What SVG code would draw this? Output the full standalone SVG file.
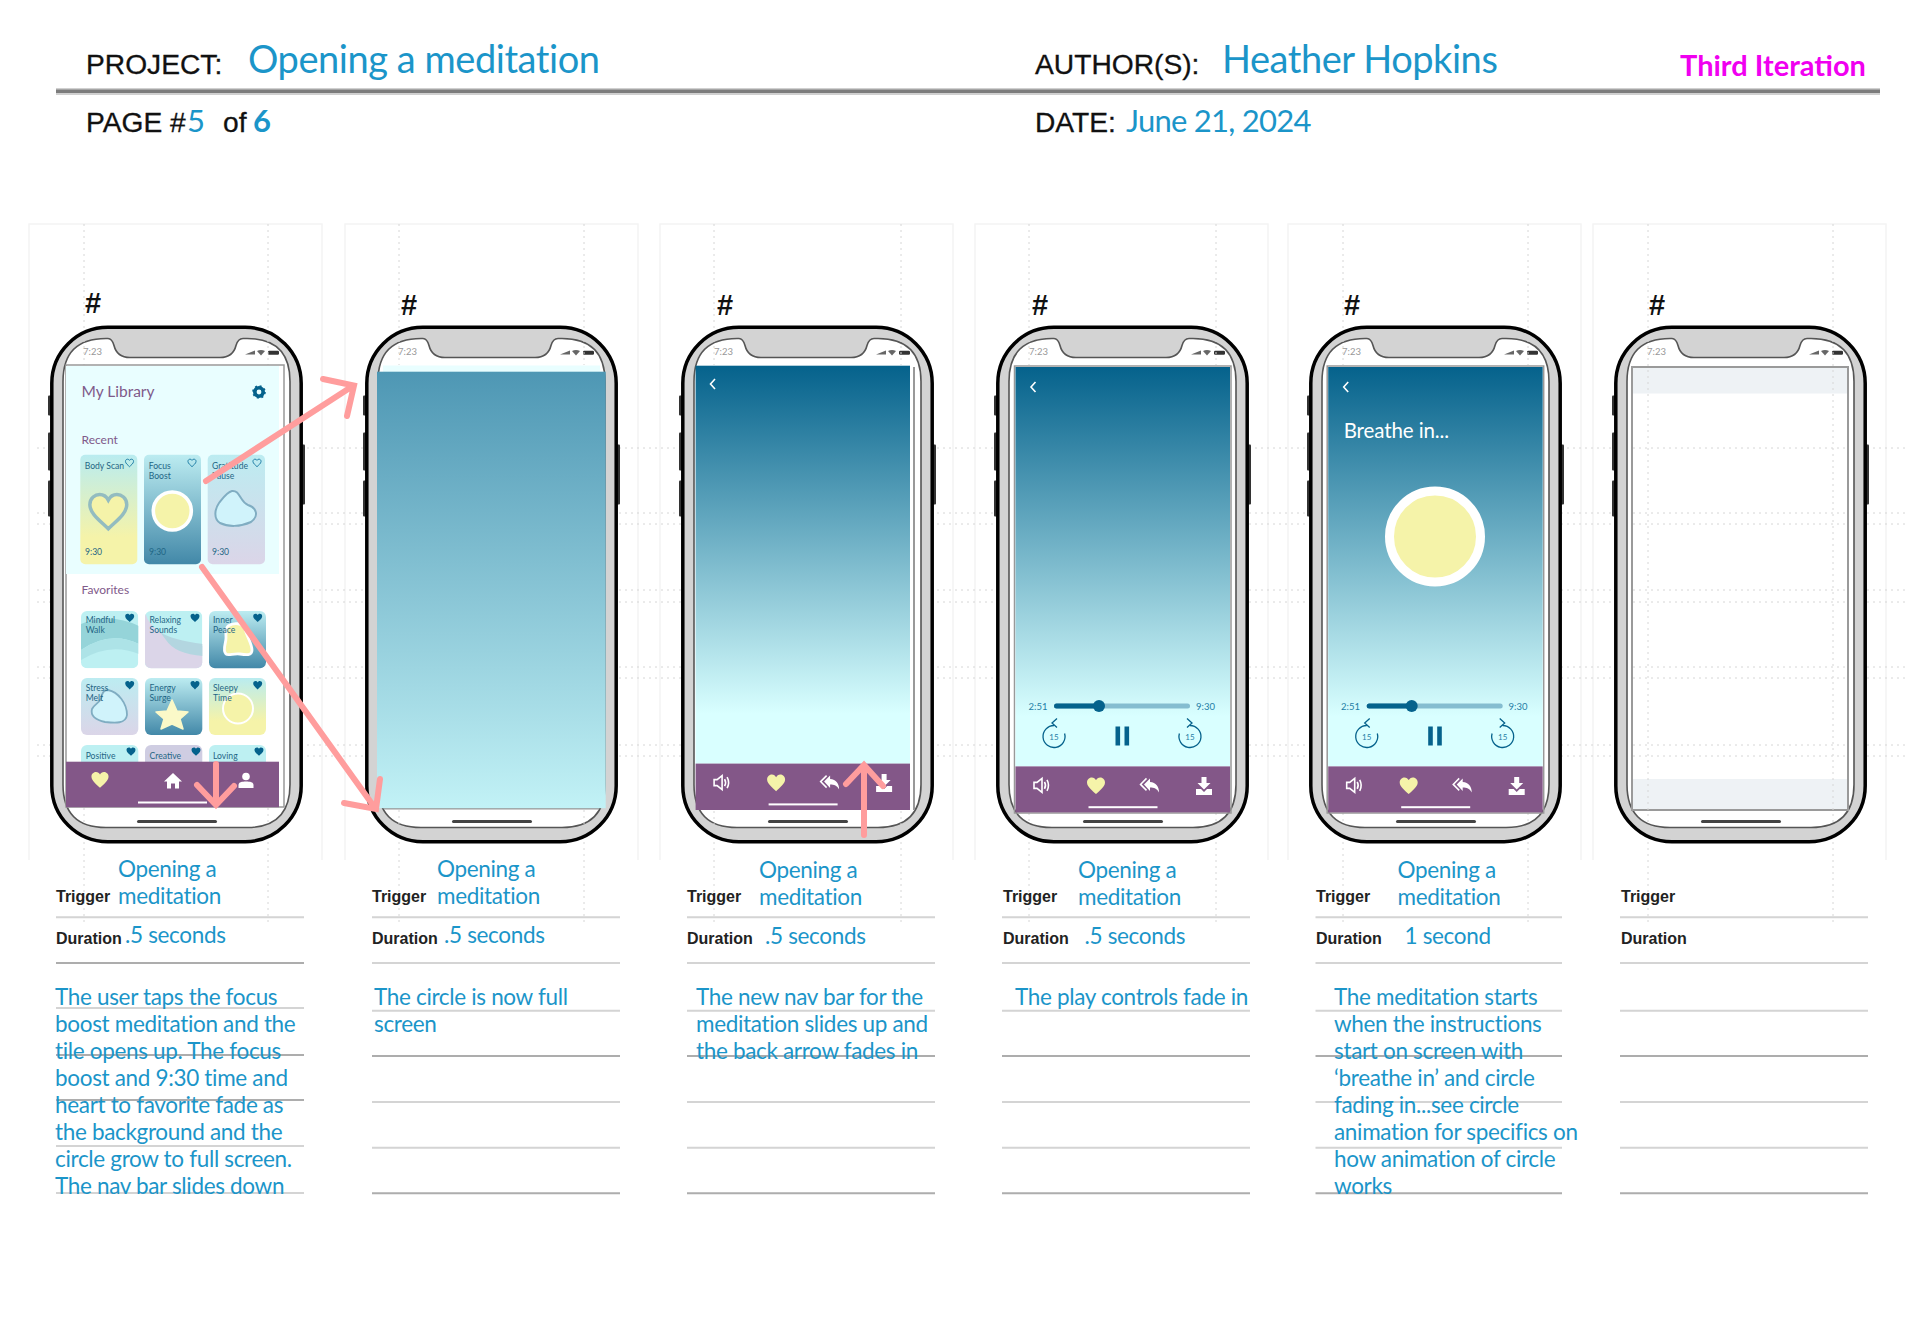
<svg xmlns="http://www.w3.org/2000/svg" width="1920" height="1339" viewBox="0 0 1920 1339">
<style>
text{font-family:"Lato","Liberation Sans",sans-serif}
.k{font-family:"Liberation Sans",Arial,sans-serif;fill:#111}
.h{font-size:28.2px;stroke:#111;stroke-width:.3px}
.hash{font-size:29px;font-weight:700}
.lab{font-size:16px;font-weight:700;fill:#222}
.b{fill:#1b95c9;font-size:22.5px;letter-spacing:-.33px}
.big{fill:#1b95c9;font-size:38px;letter-spacing:-.45px}
.mid{fill:#1b95c9;font-size:31px;letter-spacing:-.75px}
.rule{stroke:#d4d4d4;stroke-width:2}
.rule2{stroke:#adadad;stroke-width:2}
.dot{stroke:#d6d6d6;stroke-width:1;stroke-dasharray:2 4;fill:none}
.frame{stroke:#f4f4f4;stroke-width:1.5;fill:none}
.arrow{stroke:#ff9d9d;stroke-width:6;fill:none;stroke-linecap:round;stroke-linejoin:miter}
.st{font-size:9.5px;fill:#999}
.c{font-size:8.6px;fill:#1f6685}
.pur{fill:#7f5a8a}
.t{font-size:9.5px;fill:#1f7ea6}
.n{font-size:8px;fill:#1f7ea6;text-anchor:middle}
.nav{fill:#835788}
.white{fill:none;stroke:#fff;stroke-width:1.6}
.sk{fill:none;stroke:#05628c;stroke-width:1.3}
</style>
<defs>
<linearGradient id="gMain" x1="0" y1="0" x2="0" y2="1"><stop offset="0" stop-color="#05628c"/><stop offset=".875" stop-color="#d9ffff"/><stop offset="1" stop-color="#d9ffff"/></linearGradient>
<linearGradient id="gFull" x1="0" y1="0" x2="0" y2="1"><stop offset="0" stop-color="#4e97b4"/><stop offset="1" stop-color="#c2f2f6"/></linearGradient>
<linearGradient id="gYel" x1="0" y1="0" x2="0" y2="1"><stop offset="0" stop-color="#b9ecf0"/><stop offset=".75" stop-color="#f5f3a9"/></linearGradient>
<linearGradient id="gTeal" x1="0" y1="0" x2="0" y2="1"><stop offset="0" stop-color="#bcecf1"/><stop offset="1" stop-color="#4288a8"/></linearGradient>
<linearGradient id="gLav" x1="0" y1="0" x2="0" y2="1"><stop offset="0" stop-color="#bcecf1"/><stop offset="1" stop-color="#dbd5e8"/></linearGradient>
<clipPath id="c1"><rect x="81" y="611" width="57.3" height="57.3" rx="6"/></clipPath>
<clipPath id="c2"><rect x="145" y="611" width="57.3" height="57.3" rx="6"/></clipPath>
<path id="heart" d="M0,8.2C-3,5-9,1-9,-3.5C-9,-7-6.3,-8.5-4.2,-8.5C-2.2,-8.5-.8,-7.3 0,-5.8C.8,-7.3 2.2,-8.5 4.2,-8.5C6.3,-8.5 9,-7 9,-3.5C9,1 3,5 0,8.2Z"/>
<g id="navicons">
<path class="white" d="M-5,-3H-2L3,-7V7L-2,3H-5ZM5.500,-3.500Q7.500,0 5.500,3.500M8,-5.500Q11,0 8,5.500" transform="translate(23.500,19)"/>
<use href="#heart" transform="translate(80.500,19.500)" fill="#f5f3a9"/>
<path d="M-1,-7V-3.500C5,-3 8,1 8,7C6,3 3,2-1,2V5.500L-7,-1Z" fill="#fff" transform="translate(135.500,19)"/>
<path d="M-4.500,-7L-10.500,-1L-4.500,5" fill="none" stroke="#fff" stroke-width="1.500" transform="translate(135.500,19)"/>
<path d="M-2.500,-9H2.500V-3H6.500L0,3.500L-6.500,-3H-2.500ZM-8,3H-3L0,6L3,3H8V9H-8Z" fill="#fff" transform="translate(188.500,19.500)"/>
<rect x="73" y="39.800" width="69" height="2" fill="#fff"/>
</g>
<g id="rew"><path class="sk" d="M0,-11A11,11 0 1 0 10.600,-3M3,-18L-2,-13.500L3,-9"/></g>
<g id="controls">
<rect x="1054" y="703.500" width="136" height="5" rx="2.500" fill="#85bdd0"/>
<rect x="1054" y="703.500" width="45" height="5" rx="2.500" fill="#05628c"/>
<circle cx="1099" cy="706" r="6" fill="#05628c"/>
<use href="#rew" transform="translate(1054,736.500)"/>
<use href="#rew" transform="translate(1190,736.500) scale(-1,1)"/>
<rect x="1115.500" y="726.500" width="4.600" height="19" fill="#05628c"/>
<rect x="1124.500" y="726.500" width="4.600" height="19" fill="#05628c"/>
</g>
<g id="phone">
<rect x="-2" y="70" width="4" height="20" rx="1" fill="#333"/>
<rect x="-2" y="107" width="4" height="38" rx="1" fill="#333"/>
<rect x="-2" y="155" width="4" height="36" rx="1" fill="#333"/>
<rect x="251" y="119" width="4" height="60" rx="1" fill="#333"/>
<rect x="1.800" y="1.800" width="249.400" height="514.400" rx="56" fill="#d3d3d3" stroke="#000" stroke-width="3.500"/>
<path d="M13,56Q13,13 56,13H58Q62,13 64,20Q67,32 80,32H170Q183,32 186,20Q188,13 193,13H197Q240,13 240,56V459Q240,502 197,502H56Q13,502 13,459Z" fill="#fff" stroke="#555" stroke-width="1.600"/>
<rect x="87" y="494.500" width="80" height="3" rx="1.500" fill="#444"/>
<path d="M195,29L205,25V29Z" fill="#666"/>
<path d="M207,25.500Q211,23.500 215,25.500L211,30Z" fill="#666"/>
<rect x="218" y="25.200" width="11" height="4" rx="1.200" fill="#333"/>
</g>
</defs>
<rect width="1920" height="1339" fill="#fff"/>

<g id="sheet-grid">
<path class="frame" d="M29,860V224H322V860M345,860V224H638V860M660,860V224H953V860M975,860V224H1268V860M1288,860V224H1581V860M1593,860V224H1886V860"/>
<path class="dot" d="M37,448H1908M37,513H1908M37,524H1908M37,590H1908M37,602H1908M37,667H1908M37,678H1908M37,745H1908M37,756H1908"/>
<path class="dot" d="M84,224V922M268,224V922M399,224V922M584,224V922M714,224V922M901,224V922M1029,224V922M1216,224V922M1343,224V922M1528,224V922M1648,224V922M1833,224V922"/>
</g>

<g id="header">
<text class="k h" x="86" y="74">PROJECT:</text>
<text class="big" x="248" y="73">Opening a meditation</text>
<text class="k h" x="1035" y="74">AUTHOR(S):</text>
<text class="big" x="1222" y="73">Heather Hopkins</text>
<text x="1680" y="76" font-size="29" font-weight="700" fill="#f000f0">Third Iteration</text>
<rect x="56" y="88" width="1824" height="7" fill="#d0d0d0"/>
<rect x="56" y="89.500" width="1824" height="3.500" fill="#7c7c7c"/>
<text class="k h" x="86" y="132">PAGE #</text>
<text class="mid" x="187" y="132">5</text>
<text class="k h" x="223" y="132">of</text>
<text class="mid" x="253" y="132" font-weight="700">6</text>
<text class="k h" x="1035" y="132">DATE:</text>
<text class="mid" x="1126" y="132">June 21, 2024</text>
</g>

<g id="phone-1">
<text class="k hash" x="85" y="313">#</text>
<use href="#phone" transform="translate(50,325.500)"/>
<path class="dot" d="M84,340V365M268,340V365M84,808V826M268,808V826"/>
<text class="st" x="83" y="355">7:23</text>
<rect x="66" y="365" width="218" height="442" fill="#fff" stroke="#999" stroke-width="1.500"/>
<rect x="66" y="366" width="213" height="208" fill="#e9feff"/>
<text class="pur" x="81.500" y="397" font-size="15.500">My Library</text>
<circle cx="259" cy="392" r="4.200" fill="none" stroke="#05628c" stroke-width="3.600"/>
<circle cx="259" cy="392" r="6" fill="none" stroke="#05628c" stroke-width="1.600" stroke-dasharray="2 2.700"/>
<text class="pur" x="81.500" y="444" font-size="12">Recent</text>
<rect x="80.300" y="454.700" width="57" height="109.600" rx="5" fill="url(#gYel)"/>
<rect x="144" y="454.700" width="57" height="109.600" rx="5" fill="url(#gTeal)"/>
<rect x="207.700" y="454.700" width="57.300" height="109.600" rx="5" fill="url(#gLav)"/>
<text class="c" x="84.700" y="468.700" font-size="8.300">Body Scan</text>
<text class="c" x="148.700" y="468.700">Focus</text><text class="c" x="148.700" y="478.700">Boost</text>
<text class="c" x="212" y="468.700">Gratitude</text><text class="c" x="212" y="478.700">Pause</text>
<use href="#heart" transform="translate(129.500,463) scale(.45)" fill="none" stroke="#1f7ea6" stroke-width="2.200"/>
<use href="#heart" transform="translate(192,463) scale(.45)" fill="none" stroke="#1f7ea6" stroke-width="2.200"/>
<use href="#heart" transform="translate(257,463) scale(.45)" fill="none" stroke="#1f7ea6" stroke-width="2.200"/>
<use href="#heart" transform="translate(108.300,512) scale(2.050)" fill="#f5f3a9" stroke="#93bcc0" stroke-width="1.700"/>
<circle cx="172.300" cy="511" r="19" fill="#f5f3a9" stroke="#fff" stroke-width="3.600"/>
<path d="M232,491C240,490 240,502 248,505C257,508 259,516 251,522C240,527 228,527 220,523C213,518 215,509 219,503C223,498 227,492 232,491Z" fill="#d0f3fb" stroke="#80adc2" stroke-width="2"/>
<text class="c" x="85" y="555.300">9:30</text><text class="c" x="149" y="555.300">9:30</text><text class="c" x="212" y="555.300">9:30</text>

<text class="pur" x="81.500" y="594.300" font-size="12">Favorites</text>
<g clip-path="url(#c1)">
<rect x="81" y="611" width="57.300" height="57.300" fill="#bdf0f2"/>
<path d="M81,624Q110,612 139,626V644Q110,630 81,650Z" fill="#95d4d9"/>
<path d="M81,650Q110,630 139,644V654Q110,642 81,660Z" fill="#ade3e7"/>
</g>
<g clip-path="url(#c2)">
<rect x="145" y="611" width="57.300" height="57.300" fill="#bdf0f2"/>
<path d="M145,612Q152,640 203,646V669H145Z" fill="#dbd5e8"/>
<path d="M160,632Q172,640 203,644V656Q175,654 166,640Z" fill="#b3d6e0"/>
</g>
<rect x="209" y="611" width="57" height="57.300" rx="6" fill="url(#gTeal)"/>
<path d="M228,626C234,622 243,623 245,629C247,637 252,644 252,650C252,656 246,655 240,654C234,653 228,656 226,654C222,650 226,644 226,638C226,633 225,629 228,626Z" fill="#f5f3a9" stroke="#fff" stroke-width="2.800" stroke-linejoin="round"/>
<rect x="81" y="678" width="57.300" height="57" rx="6" fill="url(#gLav)"/>
<path d="M108,690C118,692 127,703 127,715C126,724 115,723 105,722C96,720 90,716 92,709C95,703 102,702 102,695C103,691 105,690 108,690Z" fill="#d0f3fb" stroke="#80adc2" stroke-width="1.800"/>
<rect x="145" y="678" width="57.300" height="57" rx="6" fill="url(#gTeal)"/>
<path d="M172,700L177,711L188,712L180,719L183,729L172,724L161,729L164,719L156,712L167,711Z" fill="#fbf9c8" stroke="#fbf9c8" stroke-width="1.500" stroke-linejoin="round"/>
<rect x="209" y="678" width="57" height="57" rx="6" fill="url(#gYel)"/>
<circle cx="238" cy="708.500" r="15" fill="#f5f3a9" stroke="#fff" stroke-width="2"/>
<rect x="81" y="745" width="57.300" height="30" rx="6" fill="#bdf0f2"/>
<rect x="145" y="745" width="57.300" height="30" rx="6" fill="#cfcde2"/>
<rect x="209" y="745" width="57" height="30" rx="6" fill="#bdf0f2"/>
<text class="c" x="85.700" y="623.300">Mindful</text><text class="c" x="85.700" y="633.300">Walk</text>
<text class="c" x="149.500" y="623.300">Relaxing</text><text class="c" x="149.500" y="633.300">Sounds</text>
<text class="c" x="213" y="623.300">Inner</text><text class="c" x="213" y="633.300">Peace</text>
<text class="c" x="85.700" y="691">Stress</text><text class="c" x="85.700" y="701">Melt</text>
<text class="c" x="149.500" y="691">Energy</text><text class="c" x="149.500" y="701">Surge</text>
<text class="c" x="213" y="691">Sleepy</text><text class="c" x="213" y="701">Time</text>
<text class="c" x="85.700" y="758.500">Positive</text><text class="c" x="149.500" y="758.500">Creative</text><text class="c" x="213" y="758.500">Loving</text>
<g fill="#05628c">
<use href="#heart" transform="translate(129.700,618) scale(.5)"/><use href="#heart" transform="translate(195,618) scale(.5)"/><use href="#heart" transform="translate(257.700,618) scale(.5)"/>
<use href="#heart" transform="translate(129.700,685.300) scale(.5)"/><use href="#heart" transform="translate(195,685.300) scale(.5)"/><use href="#heart" transform="translate(257.700,685.300) scale(.5)"/>
<use href="#heart" transform="translate(131,751.700) scale(.5)"/><use href="#heart" transform="translate(196,751.700) scale(.5)"/><use href="#heart" transform="translate(259,751.700) scale(.5)"/>
</g>
<rect x="66" y="761.700" width="213" height="45.500" class="nav"/>
<use href="#heart" transform="translate(100,780) scale(.95)" fill="#f5f3a9"/>
<path d="M173,773L182,781.500H179V788.500H175V783.500H171V788.500H167V781.500H164Z" fill="#fff"/>
<circle cx="246" cy="776.500" r="3.800" fill="#fff"/><path d="M238.500,788V785C238.500,782 242,781.500 246,781.500C250,781.500 253.500,782 253.500,785V788Z" fill="#fff"/>
<rect x="138" y="801.500" width="69" height="2" fill="#fff"/>
</g>

<g id="phone-2">
<text class="k hash" x="401" y="315">#</text>
<use href="#phone" transform="translate(365,325.500)"/>
<path class="dot" d="M399,340V365M584,340V365M399,810V826M584,810V826"/>
<text class="st" x="398" y="355">7:23</text>
<rect x="383" y="365.500" width="217" height="6.500" fill="#e9feff"/>
<rect x="384" y="808" width="215" height="1.500" fill="#999"/>
<rect x="377" y="371.700" width="228.700" height="436.500" fill="url(#gFull)"/>
</g>

<g id="phone-3">
<text class="k hash" x="717" y="315">#</text>
<use href="#phone" transform="translate(681,325.500)"/>
<path class="dot" d="M714,340V365M901,340V365M714,811V826M901,811V826"/>
<text class="st" x="714" y="355">7:23</text>
<rect x="913" y="367" width="2" height="443" fill="#999"/>
<rect x="695.600" y="365.700" width="214.400" height="398" fill="url(#gMain)"/>
<rect x="695.600" y="763.600" width="214.400" height="46.400" class="nav"/>
<use href="#navicons" transform="translate(695.600,763.600)"/>
<path class="white" d="M715,379L710.500,384L715,389"/>
</g>

<g id="phone-4">
<text class="k hash" x="1032" y="315">#</text>
<use href="#phone" transform="translate(996,325.500)"/>
<path class="dot" d="M1029,340V365M1216,340V365M1029,813V826M1216,813V826"/>
<text class="st" x="1029" y="355">7:23</text>
<rect x="1014.500" y="366" width="216.500" height="447" fill="none" stroke="#999" stroke-width="1.500"/>
<rect x="1015.500" y="367" width="214.500" height="399.400" fill="url(#gMain)"/>
<rect x="1015.500" y="766.400" width="214.500" height="46" class="nav"/>
<use href="#navicons" transform="translate(1015.500,766.400)"/>
<path class="white" d="M1035.500,382L1031,387L1035.500,392"/>
<use href="#controls"/>
<text class="t" x="1028.500" y="710">2:51</text><text class="t" x="1196" y="710">9:30</text>
<text class="n" x="1054" y="739.500">15</text><text class="n" x="1190" y="739.500">15</text>
</g>

<g id="phone-5">
<text class="k hash" x="1344" y="315">#</text>
<use href="#phone" transform="translate(1309,325.500)"/>
<path class="dot" d="M1343,340V365M1528,340V365M1343,813V826M1528,813V826"/>
<text class="st" x="1342" y="355">7:23</text>
<rect x="1327.200" y="366" width="216.500" height="447" fill="none" stroke="#999" stroke-width="1.500"/>
<rect x="1328.200" y="367" width="214.500" height="399.400" fill="url(#gMain)"/>
<rect x="1328.200" y="766.400" width="214.500" height="46" class="nav"/>
<use href="#navicons" transform="translate(1328.200,766.400)"/>
<path class="white" d="M1348.200,382L1343.700,387L1348.200,392"/>
<text x="1343.700" y="437.500" font-size="20.500" letter-spacing="-.1" fill="#fff">Breathe in...</text>
<circle cx="1435" cy="536.500" r="45.500" fill="#f5f3a9" stroke="#fff" stroke-width="9"/>
<use href="#controls" transform="translate(312.700,0)"/>
<text class="t" x="1341" y="710">2:51</text><text class="t" x="1508.500" y="710">9:30</text>
<text class="n" x="1366.700" y="739.500">15</text><text class="n" x="1502.700" y="739.500">15</text>
</g>

<g id="phone-6">
<text class="k hash" x="1649" y="315">#</text>
<use href="#phone" transform="translate(1614,325.500)"/>
<rect x="1632" y="367" width="216" height="443" fill="#fff" stroke="#9a9a9a" stroke-width="2"/>
<rect x="1633" y="368" width="214" height="25.500" fill="#eef2f5"/>
<rect x="1633" y="779" width="214" height="30" fill="#eef2f5"/>
<path class="dot" d="M1648,340V826M1833,340V826M1633,448H1847M1633,513H1847M1633,524H1847M1633,590H1847M1633,602H1847M1633,667H1847M1633,678H1847M1633,745H1847M1633,756H1847"/>
<text class="st" x="1647" y="355">7:23</text>
</g>

<g id="tables">
<g class="rule">
<path d="M56,917.300H304M56,1008H304M56,1146H304M56,1193H304"/>
<path d="M372,917.300H620M372,963H620M372,1010.700H620M372,1102H620M372,1147.700H620"/>
<path d="M687,917.300H935M687,963H935M687,1010.700H935M687,1102H935M687,1147.700H935"/>
<path d="M1002,917.300H1250M1002,963H1250M1002,1010.700H1250M1002,1102H1250M1002,1147.700H1250"/>
<path d="M1315.500,917.300H1562M1315.500,963H1562M1315.500,1010.700H1562M1315.500,1102H1562M1315.500,1147.700H1562"/>
<path d="M1620,917.300H1868M1620,963H1868M1620,1010.700H1868M1620,1102H1868M1620,1147.700H1868"/>
</g>
<g class="rule2">
<path d="M56,963H304M56,1055H304M56,1100H304"/>
<path d="M372,1056H620M372,1193.300H620M687,1056H935M687,1193.300H935M1002,1056H1250M1002,1193.300H1250M1315.500,1056H1562M1315.500,1193.300H1562M1620,1056H1868M1620,1193.300H1868"/>
</g>
<g>
<text class="k lab" x="56" y="902">Trigger</text><text class="k lab" x="56" y="944">Duration</text>
<text class="k lab" x="372" y="902">Trigger</text><text class="k lab" x="372" y="944">Duration</text>
<text class="k lab" x="687" y="902">Trigger</text><text class="k lab" x="687" y="944">Duration</text>
<text class="k lab" x="1003" y="902">Trigger</text><text class="k lab" x="1003" y="944">Duration</text>
<text class="k lab" x="1316" y="902">Trigger</text><text class="k lab" x="1316" y="944">Duration</text>
<text class="k lab" x="1621" y="902">Trigger</text><text class="k lab" x="1621" y="944">Duration</text>
</g>
<g>
<text class="b" x="118" y="877">Opening a</text><text class="b" x="118" y="904">meditation</text><text class="b" x="125" y="943">.5 seconds</text>
<text class="b" x="437" y="877">Opening a</text><text class="b" x="437" y="904">meditation</text><text class="b" x="444" y="943">.5 seconds</text>
<text class="b" x="759" y="878">Opening a</text><text class="b" x="759" y="905">meditation</text><text class="b" x="765" y="944">.5 seconds</text>
<text class="b" x="1078" y="878">Opening a</text><text class="b" x="1078" y="905">meditation</text><text class="b" x="1084.500" y="944">.5 seconds</text>
<text class="b" x="1397.500" y="878">Opening a</text><text class="b" x="1397.500" y="905">meditation</text><text class="b" x="1404.500" y="944">1 second</text>
</g>
<g>
<text class="b" x="55" y="1005">The user taps the focus</text>
<text class="b" x="55" y="1032">boost meditation and the</text>
<text class="b" x="55" y="1059">tile opens up. The focus</text>
<text class="b" x="55" y="1086">boost and 9:30 time and</text>
<text class="b" x="55" y="1113">heart to favorite fade as</text>
<text class="b" x="55" y="1140">the background and the</text>
<text class="b" x="55" y="1167">circle grow to full screen.</text>
<text class="b" x="55" y="1194">The nav bar slides down</text>
<text class="b" x="374" y="1005">The circle is now full</text>
<text class="b" x="374" y="1032">screen</text>
<text class="b" x="696" y="1005">The new nav bar for the</text>
<text class="b" x="696" y="1032">meditation slides up and</text>
<text class="b" x="696" y="1059">the back arrow fades in</text>
<text class="b" x="1015" y="1005">The play controls fade in</text>
<text class="b" x="1334" y="1005">The meditation starts</text>
<text class="b" x="1334" y="1032">when the instructions</text>
<text class="b" x="1334" y="1059">start on screen with</text>
<text class="b" x="1334" y="1086">‘breathe in’ and circle</text>
<text class="b" x="1334" y="1113">fading in...see circle</text>
<text class="b" x="1334" y="1140">animation for specifics on</text>
<text class="b" x="1334" y="1167">how animation of circle</text>
<text class="b" x="1334" y="1194">works</text>
</g>
</g>

<g id="connectors">
<path class="arrow" d="M206,481L352,386.500M323,379L354,385.500L347,416"/>
<path class="arrow" d="M202,567L375,808M344,803L376,809L380,779"/>
<path class="arrow" stroke-linecap="butt" d="M216,764V804M197,785L216,805L234,786"/>
<path class="arrow" stroke-linecap="butt" d="M864,835V766M846,784L864,765L883,786"/>
</g>
</svg>
